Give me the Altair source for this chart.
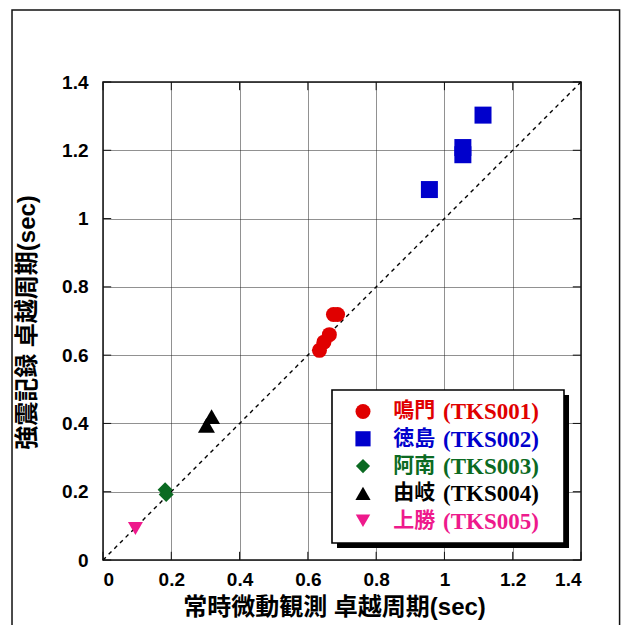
import altair as alt
import pandas as pd

# ---- data ----
naruto_x = [0.634, 0.647, 0.663, 0.675, 0.687]
naruto_y = [0.614, 0.638, 0.660, 0.719, 0.719]
tokushima_x = [0.956, 1.054, 1.054, 1.113]
tokushima_y = [1.085, 1.187, 1.208, 1.303]
anan_x = [0.182, 0.185]
anan_y = [0.206, 0.192]
yuki_x = [0.303, 0.318]
yuki_y = [0.394, 0.420]
kamikatsu_x = [0.095]
kamikatsu_y = [0.092]

series_names = ["鳴門", "徳島", "阿南", "由岐", "上勝"]
series_codes = ["(TKS001)", "(TKS002)", "(TKS003)", "(TKS004)", "(TKS005)"]
tick_values = [0, 0.2, 0.4, 0.6, 0.8, 1.0, 1.2, 1.4]

# ---- styles ----
colors = ["#e00000", "#0000cc", "#0b6a22", "#000000", "#ee1a8c"]
shapes = ["circle", "square", "diamond", "triangle-up", "triangle-down"]
sizes = [225, 289, 225, 289, 225]
legend_sizes = [225, 230, 200, 230, 210]

xs = [naruto_x, tokushima_x, anan_x, yuki_x, kamikatsu_x]
ys = [naruto_y, tokushima_y, anan_y, yuki_y, kamikatsu_y]

rows = []
for i, name in enumerate(series_names):
    for x, y in zip(xs[i], ys[i]):
        rows.append({"series": name, "x": x, "y": y, "color": colors[i], "size": sizes[i]})
pts = pd.DataFrame(rows)

# legend layout (data units)
leg_top = 0.435
leg_step = 0.08
legend_df = pd.DataFrame({
    "series": series_names,
    "code": series_codes,
    "color": colors,
    "size": legend_sizes,
    "ly": [leg_top - i * leg_step for i in range(len(series_names))],
})

ticks_df = pd.DataFrame({"t": tick_values})
diag_df = pd.DataFrame({"x": [0, 1.4], "y": [0, 1.4]})

xscale = alt.Scale(domain=[0, 1.4], nice=False, zero=False)
yscale = alt.Scale(domain=[0, 1.4], nice=False, zero=False)
shape_scale = alt.Scale(domain=series_names, range=shapes)

label_font = "Liberation Sans"
title_font = "Liberation Sans, Noto Sans CJK JP"

xaxis = alt.Axis(values=tick_values, title="常時微動観測 卓越周期(sec)", grid=True,
                 titleX=231, titleY=47, titleBaseline="middle", labelPadding=10,
                 format="~g")
yaxis = alt.Axis(values=tick_values, title="強震記録 卓越周期(sec)", grid=True,
                 titleX=-76, titleY=240, titleBaseline="middle", labelPadding=15,
                 format="~g")

base_x = alt.X("x:Q", scale=xscale, axis=xaxis)
base_y = alt.Y("y:Q", scale=yscale, axis=yaxis)

# outer frame
frame = alt.Chart(pd.DataFrame({"a": [0]})).mark_rect(
    fillOpacity=0, stroke="#111", strokeWidth=1.5
).encode(
    x=alt.X(datum=-0.2665, scale=xscale, axis=xaxis),
    x2=alt.X2(datum=1.513),
    y=alt.Y(datum=1.611, scale=yscale, axis=yaxis),
    y2=alt.Y2(datum=-0.4),
)

diag = alt.Chart(diag_df).mark_line(
    color="black", strokeDash=[4, 4], strokeWidth=1.4
).encode(x=base_x, y=base_y)

tk = 0.024
left_ticks = alt.Chart(ticks_df).mark_rule(color="#111", strokeWidth=1).encode(
    x=alt.X(datum=0, scale=xscale), x2=alt.X2(datum=tk), y=alt.Y("t:Q", scale=yscale))
right_ticks = alt.Chart(ticks_df).mark_rule(color="#111", strokeWidth=1).encode(
    x=alt.X(datum=1.4 - tk, scale=xscale), x2=alt.X2(datum=1.4), y=alt.Y("t:Q", scale=yscale))
bottom_ticks = alt.Chart(ticks_df).mark_rule(color="#111", strokeWidth=1).encode(
    y=alt.Y(datum=0, scale=yscale), y2=alt.Y2(datum=tk), x=alt.X("t:Q", scale=xscale))
top_ticks = alt.Chart(ticks_df).mark_rule(color="#111", strokeWidth=1).encode(
    y=alt.Y(datum=1.4 - tk, scale=yscale), y2=alt.Y2(datum=1.4), x=alt.X("t:Q", scale=xscale))

points = alt.Chart(pts).mark_point(filled=True, opacity=1).encode(
    x=base_x, y=base_y,
    color=alt.Color("color:N", scale=None),
    shape=alt.Shape("series:N", scale=shape_scale, legend=None),
    size=alt.Size("size:Q", scale=None),
)

# legend box with drop shadow
off = 0.0147
bx1, bx2, by1, by2 = 0.6707, 1.3502, 0.0498, 0.4979
shadow = alt.Chart(pd.DataFrame({"a": [0]})).mark_rect(color="black").encode(
    x=alt.X(datum=bx1 + off, scale=xscale), x2=alt.X2(datum=bx2 + off),
    y=alt.Y(datum=by1 - off, scale=yscale), y2=alt.Y2(datum=by2 - off))
box = alt.Chart(pd.DataFrame({"a": [0]})).mark_rect(
    fill="white", stroke="black", strokeWidth=1.6).encode(
    x=alt.X(datum=bx1, scale=xscale), x2=alt.X2(datum=bx2),
    y=alt.Y(datum=by1, scale=yscale), y2=alt.Y2(datum=by2))

leg_sym = alt.Chart(legend_df).mark_point(filled=True, opacity=1).encode(
    x=alt.X(datum=0.7615, scale=xscale),
    y=alt.Y("ly:Q", scale=yscale),
    color=alt.Color("color:N", scale=None),
    shape=alt.Shape("series:N", scale=shape_scale, legend=None),
    size=alt.Size("size:Q", scale=None),
)
leg_name = alt.Chart(legend_df).mark_text(
    align="left", baseline="middle", font="Noto Sans CJK JP", fontWeight="bold", fontSize=21,
    lineHeight=21
).encode(
    x=alt.X(datum=0.85, scale=xscale),
    y=alt.Y("ly:Q", scale=yscale),
    text="series:N",
    color=alt.Color("color:N", scale=None),
)
leg_code = alt.Chart(legend_df).mark_text(
    align="left", baseline="middle", font="Liberation Serif", fontWeight="bold", fontSize=23, dy=1
).encode(
    x=alt.X(datum=0.996, scale=xscale),
    y=alt.Y("ly:Q", scale=yscale),
    text="code:N",
    color=alt.Color("color:N", scale=None),
)

chart = alt.layer(
    frame, diag, left_ticks, right_ticks, bottom_ticks, top_ticks, points,
    shadow, box, leg_sym, leg_name, leg_code
).properties(
    width=478, height=478,
    autosize=alt.AutoSizeParams(type="none"),
    padding={"left": 95, "top": 74, "right": 40, "bottom": 66},
).configure_view(
    stroke="#111", strokeWidth=1.5
).configure_axis(
    domain=False, ticks=False,
    gridColor="#222", gridDash=[1, 1], gridWidth=1,
    labelFont=label_font, labelFontSize=19, labelFontWeight="bold", labelColor="black",
    titleFont=title_font, titleFontSize=24, titleFontWeight="bold", titleColor="black",
).configure_axisY(labelAlign="right")

chart.save("out.html", embed_options={"renderer": "svg", "actions": False})
